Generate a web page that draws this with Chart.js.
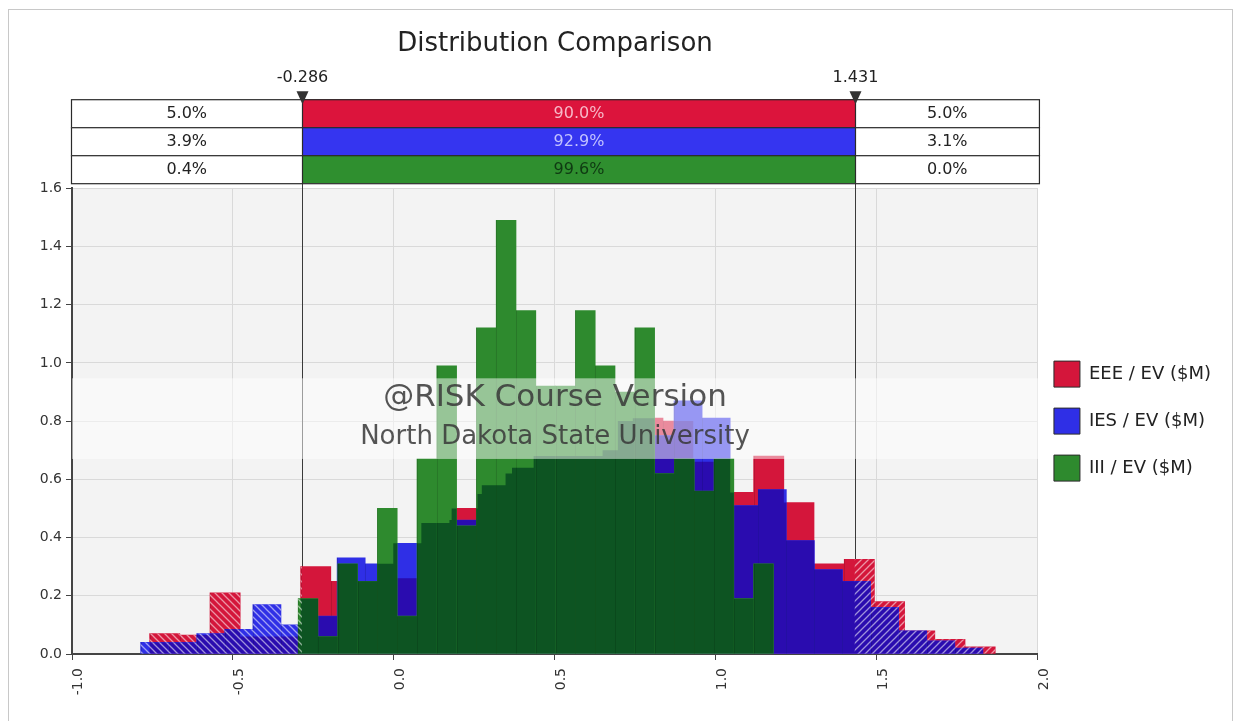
<!DOCTYPE html>
<html>
<head>
<meta charset="utf-8">
<script src="https://cdn.jsdelivr.net/npm/chart.js@4.4.1/dist/chart.umd.min.js"></script>
<style>
    html, body { margin: 0; padding: 0; background: #fff; }
    #frame { position: absolute; left: 8px; top: 9px; width: 1223px; height: 720px; border: 1px solid #c8c8c8; }
    #distChart { position: absolute; left: 0; top: 0; }
</style>
</head>
<body>
<div id="frame"></div>
<canvas id="distChart" width="1238" height="721"></canvas>
<script>
const FONT = "'DejaVu Sans', Tahoma, sans-serif";

const seriesNames = ["EEE / EV ($M)", "IES / EV ($M)", "III / EV ($M)"];

// histogram bins: first bin left edge, bin width, density per bin
const eeeBinStart = -0.759;
const eeeBinWidth = 0.0938;
const eeeDensity = [0.07, 0.065, 0.21, 0.06, 0.06, 0.30, 0.25, 0.22, 0.26, 0.45,
                    0.50, 0.58, 0.64, 0.68, 0.68, 0.70, 0.81, 0.80, 0.66, 0.555,
                    0.68, 0.52, 0.31, 0.325, 0.18, 0.08, 0.05, 0.025];

const iesBinStart = -0.787;
const iesBinWidth = 0.0872;
const iesDensity = [0.04, 0.04, 0.07, 0.085, 0.17, 0.10, 0.13, 0.33, 0.31, 0.38,
                    0.45, 0.46, 0.55, 0.62, 0.68, 0.68, 0.68, 0.80, 0.75, 0.87,
                    0.81, 0.51, 0.565, 0.39, 0.29, 0.25, 0.16, 0.08, 0.045, 0.02];

const iiiBinStart = -0.2975;
const iiiBinWidth = 0.0615;
const iiiDensity = [0.19, 0.06, 0.31, 0.25, 0.50, 0.13, 0.67, 0.99, 0.44, 1.12,
                    1.49, 1.18, 0.92, 0.92, 1.18, 0.99, 0.90, 1.12, 0.62, 0.67,
                    0.56, 0.67, 0.19, 0.31];

const xTickValues = [-1.0, -0.5, 0.0, 0.5, 1.0, 1.5, 2.0];
const yTickValues = [0.0, 0.2, 0.4, 0.6, 0.8, 1.0, 1.2, 1.4, 1.6];

// delimiters and the probability band above the plot
const delimiters = [-0.286, 1.431];
const leftPct = ["5.0%", "3.9%", "0.4%"];
const midPct = ["90.0%", "92.9%", "99.6%"];
const rightPct = ["5.0%", "3.1%", "0.0%"];

const barColors = ["#d4163b", "#2f2fe6", "#2e8a2e"];
const overlapColors = [null, "#2a0caf", "#0d5422"];
const bandColors = ["#dc143c", "#3535f0", "#2f8f2f"];
const bandTextColors = ["#f7b9c8", "#c2c2ff", "#0f3a12"];

function toBars(start, width, dens) {
    return dens.map((y, i) => ({ x: start + (i + 0.5) * width, y: y }));
}

function barRect(el) {
    const p = el.getProps(["x", "y", "base", "width"], true);
    return { l: p.x - p.width / 2, t: Math.min(p.y, p.base), w: p.width, h: Math.abs(p.base - p.y) };
}

let hatchBack, hatchFwd;

function makeHatch(ctx, forward) {
    const c = document.createElement("canvas");
    c.width = 7;
    c.height = 7;
    const g = c.getContext("2d");
    g.strokeStyle = "rgba(255,255,255,0.55)";
    g.lineWidth = 1.3;
    g.beginPath();
    for (const k of [-7, 0, 7]) {
        if (forward) {
            g.moveTo(k - 1, 8);
            g.lineTo(k + 8, -1);
        } else {
            g.moveTo(k - 1, -1);
            g.lineTo(k + 8, 8);
        }
    }
    g.stroke();
    return ctx.createPattern(c, "repeat");
}

const plotBackground = {
    id: "plotBackground",
    beforeDraw(chart) {
        const { ctx, chartArea: a } = chart;
        ctx.save();
        ctx.fillStyle = "#f3f3f3";
        ctx.fillRect(a.left, a.top, a.right - a.left, a.bottom - a.top);
        ctx.restore();
    }
};

const legendShift = {
    id: "legendShift",
    afterLayout(chart) {
        chart.legend.left -= 5;
        chart.legend.right -= 5;
    }
};

// darker fill where a series covers the ones behind it, hatching outside the delimiters
const overlapHatch = {
    id: "overlapHatch",
    afterDatasetDraw(chart, args) {
        const ctx = chart.ctx;
        const a = chart.chartArea;
        const idx = args.index;
        const rects = args.meta.data.map(barRect);
        if (!hatchBack) {
            hatchBack = makeHatch(ctx, false);
            hatchFwd = makeHatch(ctx, true);
        }
        if (idx > 0) {
            ctx.save();
            ctx.beginPath();
            for (let j = 0; j < idx; j++) {
                chart.getDatasetMeta(j).data.forEach(el => {
                    const r = barRect(el);
                    ctx.rect(r.l, r.t, r.w, r.h);
                });
            }
            ctx.clip();
            ctx.fillStyle = overlapColors[idx];
            rects.forEach(r => ctx.fillRect(r.l, r.t, r.w, r.h));
            ctx.restore();
        }
        // faint separators between neighbouring bins
        ctx.save();
        ctx.fillStyle = "rgba(0,0,0,0.13)";
        rects.forEach(r => ctx.fillRect(Math.round(r.l), r.t, 1, r.h));
        ctx.restore();

        const xs = chart.scales.x;
        const lo = xs.getPixelForValue(delimiters[0]);
        const hi = xs.getPixelForValue(delimiters[1]);
        [[a.left, lo, hatchBack], [hi, a.right, hatchFwd]].forEach(([x0, x1, pat]) => {
            ctx.save();
            ctx.beginPath();
            ctx.rect(x0, a.top, x1 - x0, a.bottom - a.top);
            ctx.clip();
            ctx.fillStyle = pat;
            rects.forEach(r => ctx.fillRect(r.l, r.t, r.w, r.h));
            ctx.restore();
        });
    }
};

const ROW_H = 28;

const delimiterLines = {
    id: "delimiterLines",
    beforeDatasetsDraw(chart) {
        const { ctx, chartArea: a, scales: { x } } = chart;
        ctx.save();
        ctx.strokeStyle = "#3a3a3a";
        ctx.lineWidth = 1;
        delimiters.forEach(d => {
            const px = Math.round(x.getPixelForValue(d)) + 0.5;
            ctx.beginPath();
            ctx.moveTo(px, a.top - 5);
            ctx.lineTo(px, a.bottom);
            ctx.stroke();
        });
        ctx.restore();
    }
};

const probabilityBand = {
    id: "probabilityBand",
    afterDraw(chart) {
        const { ctx, chartArea: a, scales: { x, y } } = chart;
        const bottom = a.top - 5;
        const top = bottom - 3 * ROW_H;
        const left = a.left - 1;
        const right = a.right + 1;
        const lo = Math.round(x.getPixelForValue(delimiters[0])) + 0.5;
        const hi = Math.round(x.getPixelForValue(delimiters[1])) + 0.5;
        ctx.save();
        ctx.font = "16px " + FONT;
        ctx.textAlign = "center";
        ctx.textBaseline = "middle";
        for (let r = 0; r < 3; r++) {
            const y0 = top + r * ROW_H;
            ctx.fillStyle = "#fff";
            ctx.fillRect(left, y0, lo - left, ROW_H);
            ctx.fillRect(hi, y0, right - hi, ROW_H);
            ctx.fillStyle = bandColors[r];
            ctx.fillRect(lo, y0, hi - lo, ROW_H);
            ctx.strokeStyle = "#2a2a2a";
            ctx.lineWidth = 1.2;
            ctx.strokeRect(left + 0.5, y0 + 0.5, right - left, ROW_H);
            ctx.beginPath();
            ctx.moveTo(lo, y0);
            ctx.lineTo(lo, y0 + ROW_H);
            ctx.moveTo(hi, y0);
            ctx.lineTo(hi, y0 + ROW_H);
            ctx.stroke();
            const cy = y0 + ROW_H / 2 + 1;
            ctx.fillStyle = "#222";
            ctx.fillText(leftPct[r], (left + lo) / 2, cy);
            ctx.fillText(rightPct[r], (hi + right) / 2, cy);
            ctx.fillStyle = bandTextColors[r];
            ctx.fillText(midPct[r], (lo + hi) / 2, cy);
        }
        // markers and their values
        [lo, hi].forEach((px, i) => {
            ctx.fillStyle = "#333";
            ctx.beginPath();
            ctx.moveTo(px - 6, top - 8);
            ctx.lineTo(px + 6, top - 8);
            ctx.lineTo(px, top + 5);
            ctx.closePath();
            ctx.fill();
            ctx.fillStyle = "#222";
            ctx.fillText(delimiters[i].toFixed(3), px, top - 21);
        });

        // watermark
        const wTop = y.getPixelForValue(0.947);
        const wBot = y.getPixelForValue(0.67);
        ctx.fillStyle = "rgba(255,255,255,0.5)";
        ctx.fillRect(a.left, wTop, a.right - a.left, wBot - wTop);
        const cx = (a.left + a.right) / 2;
        ctx.fillStyle = "rgba(55,55,55,0.85)";
        ctx.font = "31px " + FONT;
        ctx.fillText("@RISK Course Version", cx, y.getPixelForValue(0.88));
        ctx.font = "26px " + FONT;
        ctx.fillText("North Dakota State University", cx, y.getPixelForValue(0.743));
        ctx.restore();
    }
};

function initChart() {
    const ctx = document.getElementById("distChart").getContext("2d");

    const hiddenX = {
        type: "linear",
        display: false,
        min: -1,
        max: 2,
        offset: false,
        grid: { offset: false }
    };

    new Chart(ctx, {
        type: "bar",
        data: {
            datasets: [{
                label: seriesNames[0],
                data: toBars(eeeBinStart, eeeBinWidth, eeeDensity),
                backgroundColor: barColors[0],
                xAxisID: "x",
                order: 3
            }, {
                label: seriesNames[1],
                data: toBars(iesBinStart, iesBinWidth, iesDensity),
                backgroundColor: barColors[1],
                xAxisID: "xb",
                order: 2
            }, {
                label: seriesNames[2],
                data: toBars(iiiBinStart, iiiBinWidth, iiiDensity),
                backgroundColor: barColors[2],
                xAxisID: "xg",
                order: 1
            }]
        },
        options: {
            responsive: false,
            animation: false,
            grouped: false,
            barPercentage: 1,
            categoryPercentage: 1,
            borderWidth: 0,
            layout: { padding: { left: 12, right: 12, top: 0, bottom: 0 } },
            plugins: {
                tooltip: { enabled: false },
                title: {
                    display: true,
                    text: "Distribution Comparison",
                    fullSize: false,
                    color: "#222",
                    font: { family: FONT, size: 26, weight: "normal" },
                    padding: { top: 29, bottom: 128 }
                },
                legend: {
                    position: "right",
                    fullSize: false,
                    maxWidth: 190,
                    labels: {
                        boxWidth: 26,
                        boxHeight: 26,
                        padding: 21,
                        color: "#222",
                        font: { family: FONT, size: 18 },
                        sort: (a, b) => a.datasetIndex - b.datasetIndex,
                        generateLabels(chart) {
                            return Chart.defaults.plugins.legend.labels.generateLabels(chart)
                                .map(l => Object.assign(l, { strokeStyle: "#2a2a2a", lineWidth: 1 }));
                        }
                    }
                }
            },
            scales: {
                x: {
                    type: "linear",
                    min: -1,
                    max: 2,
                    offset: false,
                    afterBuildTicks: s => { s.ticks = xTickValues.map(v => ({ value: v })); },
                    afterFit: s => { s.height = 67; },
                    ticks: {
                        callback: v => v.toFixed(1),
                        maxRotation: 90,
                        minRotation: 90,
                        autoSkip: false,
                        labelOffset: 6,
                        padding: 8,
                        color: "#333",
                        font: { family: FONT, size: 14 }
                    },
                    grid: { color: "#d9d9d9", offset: false, tickLength: 6, tickColor: "#444" },
                    border: { color: "#444", width: 2 }
                },
                xb: hiddenX,
                xg: hiddenX,
                y: {
                    min: 0,
                    max: 1.6,
                    afterBuildTicks: s => { s.ticks = yTickValues.map(v => ({ value: v })); },
                    afterFit: s => { s.width = 60; },
                    ticks: {
                        callback: v => v.toFixed(1),
                        padding: 4,
                        color: "#333",
                        font: { family: FONT, size: 14 }
                    },
                    grid: { color: "#d9d9d9", tickLength: 6, tickColor: "#444" },
                    border: { color: "#444", width: 2 }
                }
            }
        },
        plugins: [plotBackground, legendShift, delimiterLines, overlapHatch, probabilityBand]
    });
}

initChart();
</script>
</body>
</html>
